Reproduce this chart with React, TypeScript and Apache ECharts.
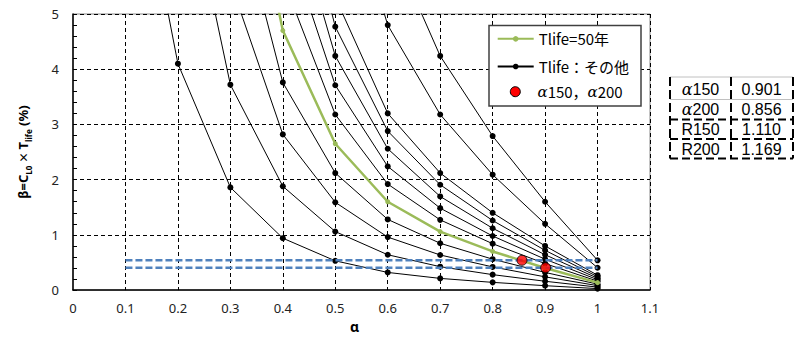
import React, { useEffect, useRef } from "react";
import * as echarts from "echarts";

// α values (x axis)
const alphas = [0.1, 0.2, 0.3, 0.4, 0.5, 0.6, 0.7, 0.8, 0.9, 1.0];

// β values for each service life (null = not plotted)
const t10 = [9.0, 4.1, 1.86, 0.94, 0.53, 0.32, 0.212, 0.14, 0.08, 0.027];
const t20 = [null, 8.2, 3.72, 1.88, 1.06, 0.64, 0.424, 0.28, 0.16, 0.054];
const t30 = [null, null, 5.58, 2.82, 1.59, 0.96, 0.636, 0.42, 0.24, 0.081];
const t40 = [null, null, 7.44, 3.76, 2.12, 1.28, 0.848, 0.56, 0.32, 0.108];
const t50 = [null, null, 9.3, 4.7, 2.65, 1.6, 1.06, 0.7, 0.4, 0.135];
const t60 = [null, null, null, 5.64, 3.18, 1.92, 1.272, 0.84, 0.48, 0.162];
const t70 = [null, null, null, 6.58, 3.71, 2.24, 1.484, 0.98, 0.56, 0.189];
const t80 = [null, null, null, 7.52, 4.24, 2.56, 1.696, 1.12, 0.64, 0.216];
const t90 = [null, null, null, 8.46, 4.77, 2.88, 1.908, 1.26, 0.72, 0.243];
const t100 = [null, null, null, null, 5.3, 3.2, 2.12, 1.4, 0.8, 0.27];
const t150 = [null, null, null, null, 7.95, 4.8, 3.18, 2.09, 1.2, 0.405];
const t200 = [null, null, null, null, null, 6.4, 4.24, 2.79, 1.6, 0.54];

const otherSeries = [t10, t20, t30, t40, t60, t70, t80, t90, t100, t150, t200];

// red points (α150, α200)
const redAlpha = [0.901, 0.856];
const redBeta = [0.405, 0.54];

// blue dashed reference levels
const blueLevels = [0.54, 0.405];
const blueFrom = 0.1;
const blueTo = 1.0;

// side table
const tableLabels = ["{a|α}150", "{a|α}200", "R150", "R200"];
const tableValues = ["0.901", "0.856", "1.110", "1.169"];

const NAME50 = "Tlife=50年";
const NAMEOTHER = "Tlife：その他";
const NAMERED = "α150，α200";

const toPairs = (vals: (number | null)[]) =>
  alphas.map((a, i) => [a, vals[i]]).filter((p) => p[1] !== null);

export default function App() {
  const ref = useRef<HTMLDivElement>(null);
  useEffect(() => {
    if (!ref.current) return;
    const chart = echarts.init(ref.current, undefined, { renderer: "svg" });

    const series: any[] = [];
    otherSeries.forEach((vals) => {
      series.push({
        type: "line",
        name: NAMEOTHER,
        data: toPairs(vals),
        symbol: "circle",
        symbolSize: 6,
        clip: true,
        lineStyle: { color: "#000", width: 1 },
        itemStyle: { color: "#000" },
        silent: true,
        z: 2,
      });
    });
    series.push({
      type: "line",
      name: NAME50,
      data: toPairs(t50),
      symbol: "circle",
      symbolSize: 5,
      clip: true,
      lineStyle: { color: "#9bbb59", width: 2.5 },
      itemStyle: { color: "#9bbb59" },
      silent: true,
      z: 3,
    });
    blueLevels.forEach((lv) => {
      series.push({
        type: "line",
        name: "ref" + lv,
        data: [
          [blueFrom, lv],
          [blueTo, lv],
        ],
        symbol: "none",
        lineStyle: { color: "#4f81bd", width: 2.5, type: [7, 3] },
        silent: true,
        z: 4,
      });
    });
    series.push({
      type: "scatter",
      name: NAMERED,
      data: redAlpha.map((a, i) => [a, redBeta[i]]),
      symbol: "circle",
      symbolSize: 10,
      itemStyle: { color: "#ff0000", borderColor: "#000", borderWidth: 1 },
      silent: true,
      z: 5,
    });

    const tableX = [670, 731, 793];
    const tableY = [77, 99.5, 119.5, 139, 158.5];
    const textY = [89, 109, 129.5, 149];
    const graphics: any[] = [
      {
        type: "rect",
        shape: { x: 489, y: 25.5, width: 152, height: 80.5 },
        style: { fill: "#fff", stroke: "#404040", lineWidth: 1.5 },
        z: 3,
      },
      // third legend entry (scatter)
      {
        type: "circle",
        shape: { cx: 515.3, cy: 91.7, r: 5 },
        style: { fill: "#ff0000", stroke: "#000", lineWidth: 1 },
        z: 6,
      },
      {
        type: "text",
        x: 537.5,
        y: 91.7,
        style: {
          text: "{a|α}150，{a|α}200",
          font: "15px 'Noto Sans CJK JP', 'Noto Sans', sans-serif",
          fill: "#000",
          align: "left",
          verticalAlign: "middle",
          textAlign: "left",
          textVerticalAlign: "middle",
          rich: {
            a: {
              fontStyle: "italic",
              fontFamily: "'DejaVu Serif', serif",
              fontSize: 15,
              fill: "#000",
            },
          },
        },
        z: 6,
      },
    ];
    tableY.forEach((y, i) => {
      const solidGrey = i < 2;
      graphics.push({
        type: "line",
        shape: { x1: tableX[0], y1: y, x2: tableX[2], y2: y },
        style: solidGrey
          ? { stroke: "#c0c0c0", lineWidth: 1 }
          : { stroke: "#000", lineWidth: 2, lineDash: [8, 4] },
        z: 3,
      });
    });
    tableX.forEach((x) => {
      graphics.push({
        type: "line",
        shape: { x1: x, y1: tableY[0], x2: x, y2: tableY[4] },
        style: { stroke: "#000", lineWidth: 2, lineDash: [9, 4] },
        z: 4,
      });
    });
    tableLabels.forEach((t, i) => {
      graphics.push({
        type: "text",
        x: 700.5,
        y: textY[i],
        style: {
          text: t,
          font: "16px 'Liberation Sans', Arial, sans-serif",
          fill: "#000",
          align: "center",
          verticalAlign: "middle",
          textAlign: "center",
          textVerticalAlign: "middle",
          rich: {
            a: {
              fontStyle: "italic",
              fontFamily: "'DejaVu Serif', serif",
              fontSize: 16,
              fill: "#000",
            },
          },
        },
        z: 5,
      });
      graphics.push({
        type: "text",
        x: 761.5,
        y: textY[i],
        style: {
          text: tableValues[i],
          font: "16px 'Liberation Sans', Arial, sans-serif",
          fill: "#000",
          align: "center",
          verticalAlign: "middle",
          textAlign: "center",
          textVerticalAlign: "middle",
        },
        z: 5,
      });
    });

    const tickFont = "'Noto Sans', 'DejaVu Sans', sans-serif";
    const legendText = {
      fontFamily: "'Noto Sans CJK JP', 'Noto Sans', sans-serif",
      fontSize: 15,
      lineHeight: 14,
      color: "#000",
    };

    chart.setOption({
      animation: false,
      grid: {
        left: 73,
        right: 145,
        top: 14,
        bottom: 46.3,
        show: true,
        borderColor: "#888",
        borderWidth: 1,
      },
      xAxis: {
        type: "value",
        min: 0,
        max: 1.1,
        interval: 0.1,
        name: "α",
        nameLocation: "middle",
        nameGap: 27,
        nameTextStyle: {
          fontFamily: tickFont,
          fontWeight: "bold",
          fontSize: 14,
          color: "#000",
          padding: [0, 14, 0, 0],
        },
        axisLine: { show: true, lineStyle: { color: "#000", width: 1.5 } },
        axisTick: { show: false },
        axisLabel: {
          margin: 11,
          fontFamily: tickFont,
          fontSize: 13,
          color: "#222",
          formatter: (v: number) => String(Math.round(v * 10) / 10),
        },
        splitLine: {
          show: true,
          showMinLine: false,
          lineStyle: { color: "#000", type: [4, 3], width: 1 },
        },
      },
      yAxis: {
        type: "value",
        min: 0,
        max: 5,
        interval: 1,
        name: "{b|β=C}{s|L0}{x| ✕ }{b|T}{s|life}{b| (%)}",
        nameLocation: "middle",
        nameGap: 41,
        nameTextStyle: {
          color: "#000",
          rich: {
            b: {
              fontFamily: tickFont,
              fontWeight: "bold",
              fontSize: 13,
              lineHeight: 18,
              verticalAlign: "middle",
              color: "#000",
            },
            x: {
              fontFamily: tickFont,
              fontWeight: "bold",
              fontSize: 12,
              lineHeight: 18,
              verticalAlign: "middle",
              color: "#000",
            },
            s: {
              fontFamily: tickFont,
              fontWeight: "bold",
              fontSize: 8,
              lineHeight: 10,
              verticalAlign: "bottom",
              color: "#000",
            },
          },
        },
        axisLine: { show: true, lineStyle: { color: "#000", width: 1.5 } },
        axisTick: {
          show: true,
          inside: true,
          length: 4,
          lineStyle: { color: "#000" },
        },
        minorTick: {
          show: true,
          splitNumber: 5,
          length: 4,
          lineStyle: { color: "#000" },
        },
        axisLabel: {
          margin: 14,
          fontFamily: tickFont,
          fontSize: 13,
          color: "#222",
        },
        splitLine: {
          show: true,
          showMinLine: false,
          lineStyle: { color: "#000", type: [4, 3], width: 1 },
        },
      },
      legend: {
        show: true,
        orient: "vertical",
        left: 496.7,
        top: 31.3,
        padding: 0,
        itemGap: 12.7,
        itemWidth: 36,
        itemHeight: 7,
        z: 6,
        data: [NAME50, NAMEOTHER],
        textStyle: legendText,
        selectedMode: false,
      },
      graphic: graphics,
      series,
    });
    return () => chart.dispose();
  }, []);
  return (
    <div
      ref={ref}
      style={{ position: "absolute", left: 0, top: 0, width: 795, height: 338 }}
    />
  );
}
